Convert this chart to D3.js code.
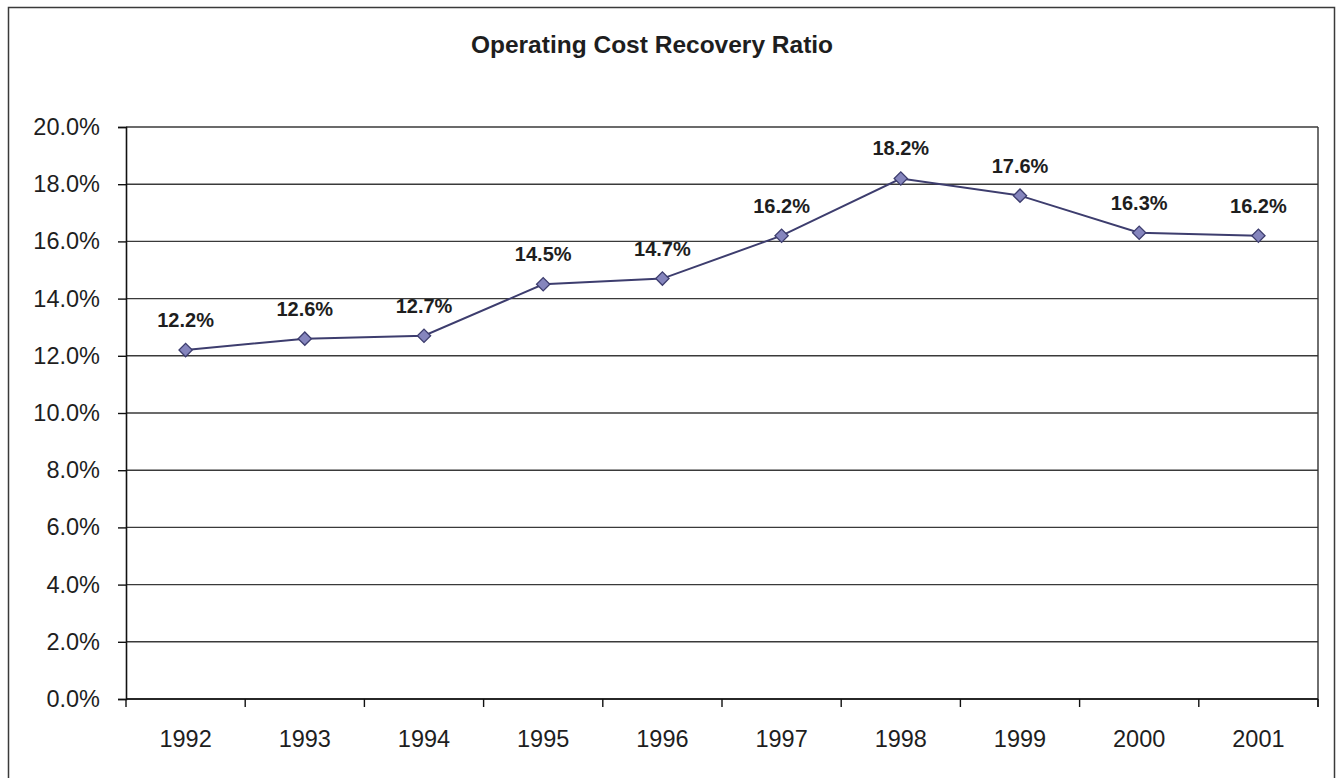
<!DOCTYPE html>
<html>
<head>
<meta charset="utf-8">
<script src="https://cdn.jsdelivr.net/npm/d3@7"></script>
<style>
  html, body { margin: 0; padding: 0; background: #fff; }
  svg { display: block; }
  text { font-family: "Liberation Sans", Arial, sans-serif; fill: #1e1e1e; }
</style>
</head>
<body>
<svg id="chart" width="1336" height="778"></svg>
<script>
// Operating cost recovery ratio, by fiscal year (percent)
const years = ["1992", "1993", "1994", "1995", "1996", "1997", "1998", "1999", "2000", "2001"];
const ratios = [12.2, 12.6, 12.7, 14.5, 14.7, 16.2, 18.2, 17.6, 16.3, 16.2];
const yTicks = [0, 2, 4, 6, 8, 10, 12, 14, 16, 18, 20];
const chartTitle = "Operating Cost Recovery Ratio";

const svg = d3.select("#chart");
const W = 1336, H = 778;
const plot = { left: 126, right: 1318, top: 127, bottom: 699 };

// outer frame
svg.append("rect")
  .attr("x", 8.5).attr("y", 7.5)
  .attr("width", 1326).attr("height", H + 10)
  .attr("fill", "#fff").attr("stroke", "#3a3a3a").attr("stroke-width", 1.5);

// title
svg.append("text")
  .attr("x", 652).attr("y", 53)
  .attr("text-anchor", "middle")
  .attr("font-size", 24.5).attr("font-weight", "bold")
  .text(chartTitle);

const x = d3.scaleBand().domain(years).range([plot.left, plot.right]);
const y = d3.scaleLinear().domain([0, 20]).range([plot.bottom, plot.top]);

// horizontal gridlines
svg.append("g")
  .selectAll("line")
  .data(yTicks)
  .join("line")
  .attr("x1", plot.left).attr("x2", plot.right)
  .attr("y1", d => y(d)).attr("y2", d => y(d))
  .attr("stroke", "#3a3a3a").attr("stroke-width", 1.4);

// right edge of plot area
svg.append("line")
  .attr("x1", plot.right).attr("x2", plot.right)
  .attr("y1", plot.top).attr("y2", plot.bottom + 8)
  .attr("stroke", "#333").attr("stroke-width", 1.4);

// y axis
const yAxis = d3.axisLeft(y)
  .tickValues(yTicks)
  .tickSize(8)
  .tickPadding(18)
  .tickFormat(d => d3.format(".1f")(d) + "%");
const gy = svg.append("g")
  .attr("transform", `translate(${plot.left},0)`)
  .call(yAxis);
gy.select(".domain").attr("stroke", "#111").attr("stroke-width", 1.6);
gy.selectAll(".tick line").attr("stroke", "#111").attr("stroke-width", 1.4);
gy.selectAll(".tick text")
  .attr("font-size", 23.5)
  .attr("font-family", "'Liberation Sans', Arial, sans-serif")
  .attr("fill", "#1e1e1e");

// x axis: ticks sit between categories
const gx = svg.append("g")
  .attr("transform", `translate(0,${plot.bottom})`);
gx.append("line")
  .attr("x1", plot.left).attr("x2", plot.right)
  .attr("stroke", "#111").attr("stroke-width", 1.6);
const boundaries = years.map(d => x(d)).concat([plot.right]);
gx.selectAll("line.tk")
  .data(boundaries)
  .join("line")
  .attr("class", "tk")
  .attr("x1", d => d).attr("x2", d => d)
  .attr("y1", 0).attr("y2", 8)
  .attr("stroke", "#111").attr("stroke-width", 1.4);
gx.selectAll("text")
  .data(years)
  .join("text")
  .attr("x", d => x(d) + x.bandwidth() / 2)
  .attr("y", 48)
  .attr("text-anchor", "middle")
  .attr("font-size", 23.5)
  .text(d => d);

// series line
const cx = (d, i) => x(years[i]) + x.bandwidth() / 2;
const line = d3.line()
  .x((d, i) => cx(d, i))
  .y(d => y(d));
svg.append("path")
  .datum(ratios)
  .attr("d", line)
  .attr("fill", "none")
  .attr("stroke", "#3d3d6e")
  .attr("stroke-width", 2);

// diamond markers: a square turned 45 degrees
const diamond = d3.symbol().type(d3.symbolSquare).size(88);
svg.append("g")
  .selectAll("path")
  .data(ratios)
  .join("path")
  .attr("d", diamond)
  .attr("transform", (d, i) => `translate(${cx(d, i)},${y(d)}) rotate(45)`)
  .attr("fill", "#8585bd")
  .attr("stroke", "#3d3d6e")
  .attr("stroke-width", 1.3);

// value labels
svg.append("g")
  .selectAll("text")
  .data(ratios)
  .join("text")
  .attr("x", (d, i) => cx(d, i))
  .attr("y", d => y(d) - 23)
  .attr("text-anchor", "middle")
  .attr("font-size", 20)
  .attr("font-weight", "bold")
  .text(d => d3.format(".1f")(d) + "%");
</script>
</body>
</html>
